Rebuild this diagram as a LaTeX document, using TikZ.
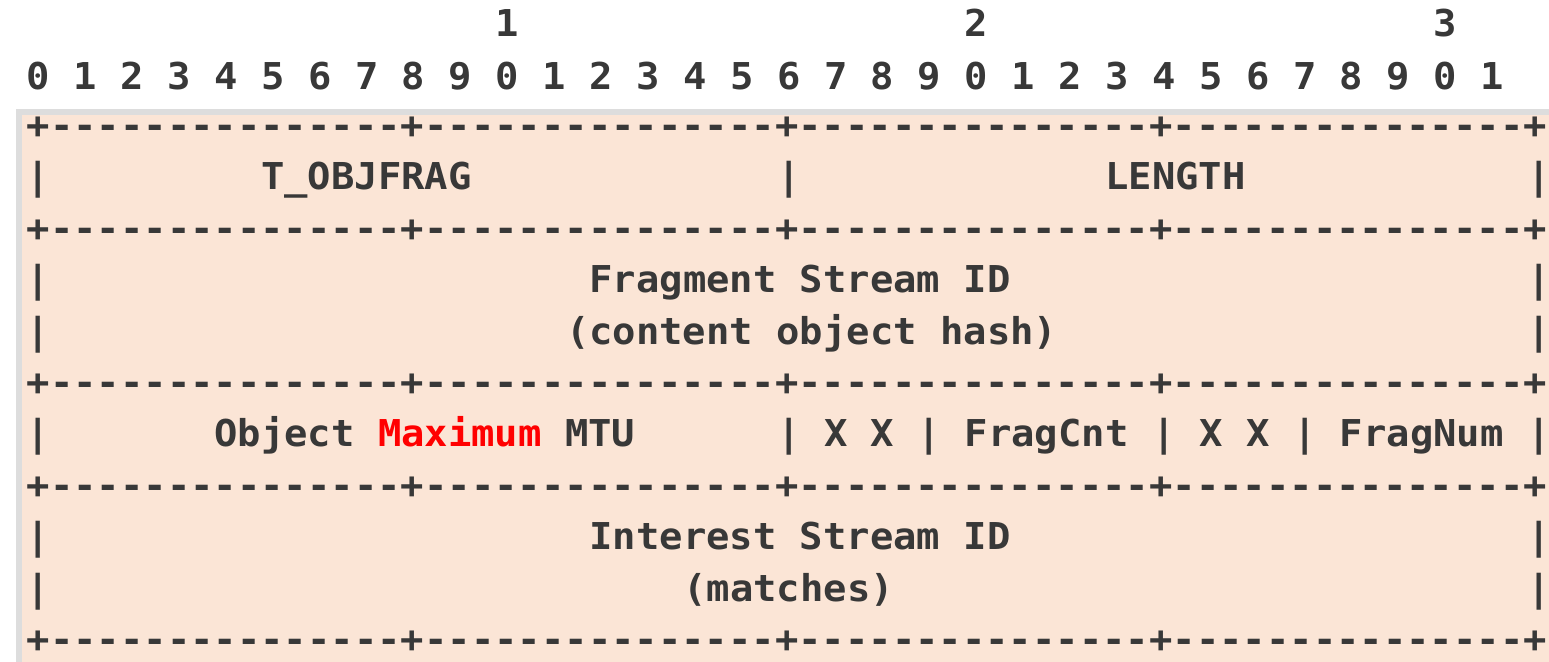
\documentclass[tikz,border=0pt]{standalone}
\usepackage{fontspec}
\setmonofont[FakeStretch=1.05]{DejaVu Sans Mono}
\usepackage{xcolor}

\definecolor{papel}{HTML}{FBE5D6}
\definecolor{marco}{HTML}{DDDDDD}
\definecolor{tinta}{HTML}{383838}

% Columna (en caracteres) y fila (en lineas) a pixeles
\newcommand{\cx}[1]{26.3+23.45*#1}
\newcommand{\fy}[1]{138.6+51.4*#1}

\tikzset{
  txt/.style={anchor=base west, inner sep=0pt, text=tinta,
    font=\ttfamily\bfseries\fontsize{18.5}{18.5}\selectfont}
}

\begin{document}
\begin{tikzpicture}[x=0.5pt,y=-0.5pt]
    \useasboundingbox (0,0) rectangle (1549,662);
    \clip (0,0) rectangle (1549,662);

    % Fondo
    \fill[marco] (16,109) rectangle (1560,670);
    \fill[papel] (22,115) rectangle (1560,670);

    % Numeracion de bits
    \foreach \d in {1,2,3} {
        \node[txt] (dec\d) at ({\cx{20*\d}},37) {\d};
    }
    \foreach \i in {0,...,31} {
        \pgfmathtruncatemacro{\u}{mod(\i,10)}
        \node[txt] (bit\i) at ({\cx{2*\i}},90) {\u};
    }

    % Separadores
    \foreach \r in {0,2,5,7,10} {
        \node[txt] (borde\r) at ({\cx{0}},{\fy{\r}}) {+---------------+---------------+---------------+---------------+};
    }

    % Laterales
    \foreach \r in {1,3,4,6,8,9} {
        \node[txt] (izq\r) at ({\cx{0}},{\fy{\r}}) {|};
        \node[txt] (der\r) at ({\cx{64}},{\fy{\r}}) {|};
    }

    % Fila 1
    \node[txt] (tipo) at ({\cx{10}},{\fy{1}}) {T\_OBJFRAG};
    \node[txt] (sep1) at ({\cx{32}},{\fy{1}}) {|};
    \node[txt] (largo) at ({\cx{46}},{\fy{1}}) {LENGTH};

    % Fila 2
    \node[txt] (fsid) at ({\cx{24}},{\fy{3}}) {Fragment Stream ID};
    \node[txt] (fsidnota) at ({\cx{23}},{\fy{4}}) {(content object hash)};

    % Fila 3
    \node[txt] (mtu) at ({\cx{8}},{\fy{6}}) {Object \textcolor{red}{Maximum} MTU};
    \node[txt] (sepa) at ({\cx{32}},{\fy{6}}) {|};
    \node[txt] (xa) at ({\cx{34}},{\fy{6}}) {X};
    \node[txt] (xb) at ({\cx{36}},{\fy{6}}) {X};
    \node[txt] (sepb) at ({\cx{38}},{\fy{6}}) {|};
    \node[txt] (cnt) at ({\cx{40}},{\fy{6}}) {FragCnt};
    \node[txt] (sepc) at ({\cx{48}},{\fy{6}}) {|};
    \node[txt] (xc) at ({\cx{50}},{\fy{6}}) {X};
    \node[txt] (xd) at ({\cx{52}},{\fy{6}}) {X};
    \node[txt] (sepd) at ({\cx{54}},{\fy{6}}) {|};
    \node[txt] (num) at ({\cx{56}},{\fy{6}}) {FragNum};

    % Fila 4
    \node[txt] (isid) at ({\cx{24}},{\fy{8}}) {Interest Stream ID};
    \node[txt] (isidnota) at ({\cx{28}},{\fy{9}}) {(matches)};
\end{tikzpicture}
\end{document}
